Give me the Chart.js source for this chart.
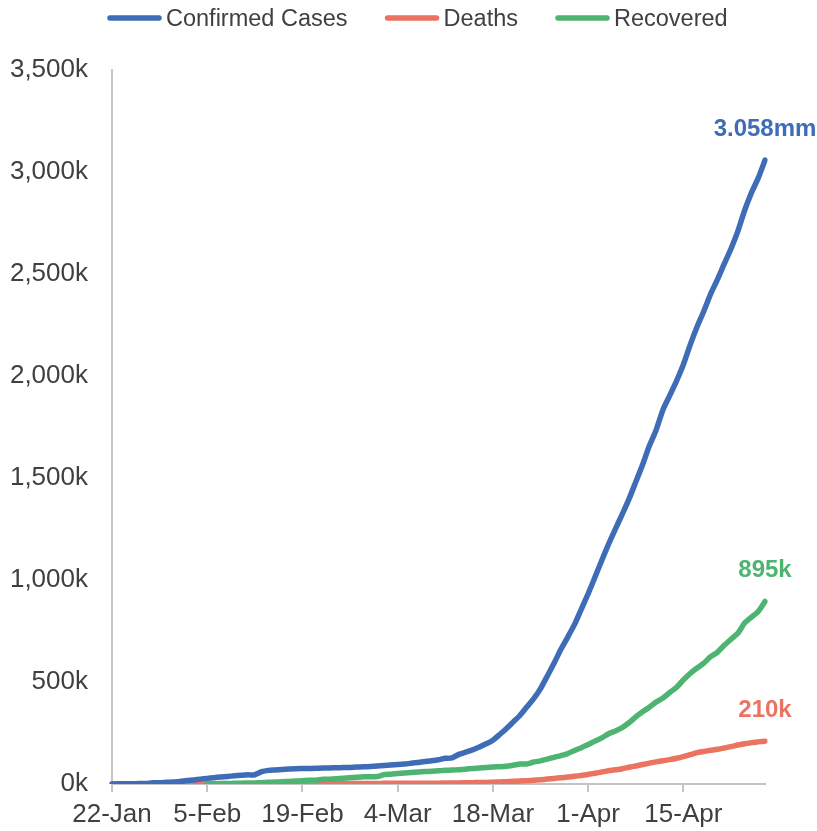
<!DOCTYPE html>
<html>
<head>
<meta charset="utf-8">
<script src="https://cdn.jsdelivr.net/npm/chart.js@4/dist/chart.umd.min.js"></script>
<style>
  html, body { margin: 0; padding: 0; background: #fff; }
  #wrap { width: 817px; height: 831px; }
</style>
</head>
<body>
<div id="wrap"><canvas id="chart"></canvas></div>
<script>
// daily dates, 22-Jan to 27-Apr
const months = ['Jan', 'Feb', 'Mar', 'Apr'];
const dates = [];
for (let d = new Date(2020, 0, 22); d <= new Date(2020, 3, 27); d.setDate(d.getDate() + 1)) {
  dates.push(d.getDate() + '-' + months[d.getMonth()]);
}

const confirmed = [
  555, 654, 941, 1434, 2118, 2927, 5578, 6166, 8234, 9927,
  12038, 16787, 19881, 23892, 27635, 30794, 34391, 37120, 40150, 42762,
  44802, 45221, 60368, 66885, 69030, 71224, 73258, 75136, 75639, 76197,
  76823, 78579, 78965, 79568, 80413, 81395, 82754, 84120, 86011, 88369,
  90306, 92840, 95120, 97886, 101801, 105847, 109821, 113590, 118620, 125875,
  128352, 145205, 156101, 167454, 181574, 197102, 214821, 242570, 272208, 304507,
  336953, 378235, 418045, 467653, 529591, 593291, 660706, 720117, 782365, 857487,
  932605, 1013466, 1095917, 1176060, 1249754, 1321481, 1396476, 1480202, 1565278, 1657526,
  1735650, 1834721, 1904838, 1976191, 2056054, 2152437, 2240190, 2317759, 2401378, 2472259,
  2549123, 2624074, 2708885, 2811193, 2897645, 2969711, 3058000
];

const deaths = [
  17, 18, 26, 42, 56, 82, 131, 133, 171, 213,
  259, 362, 426, 492, 564, 634, 719, 806, 906, 1013,
  1113, 1118, 1371, 1523, 1666, 1770, 1868, 2007, 2122, 2247,
  2251, 2458, 2469, 2629, 2708, 2770, 2814, 2872, 2941, 2996,
  3085, 3160, 3254, 3348, 3460, 3558, 3802, 3988, 4262, 4615,
  4720, 5404, 5819, 6440, 7126, 7905, 8733, 9867, 11299, 12973,
  14623, 16497, 18615, 21181, 23970, 27198, 30652, 33925, 37582, 42107,
  46809, 52983, 58787, 64606, 69374, 74565, 81865, 88338, 95455, 102525,
  108502, 114090, 119481, 125983, 134176, 143800, 153822, 159509, 165043, 169986,
  176583, 183066, 190858, 197159, 202846, 206544, 210000
];

// recovered series only starts on 5-Feb
const recovered = [
  null, null, null, null, null, null, null, null, null, null,
  null, null, null, null, 1124, 1487, 2011, 2616, 3244, 3946,
  4683, 5150, 6295, 8058, 9395, 10865, 12583, 14352, 16121, 18177,
  18890, 22886, 23394, 25227, 27905, 30384, 33277, 35500, 36000, 36500,
  46000, 48228, 51170, 53796, 55865, 58358, 60694, 62494, 64404, 67003,
  68324, 70251, 72624, 76034, 78088, 80840, 83312, 84975, 87420, 91692,
  97899, 98351, 107890, 113604, 122150, 130915, 139415, 149082, 164566, 178034,
  193177, 210263, 225796, 246152, 259695, 276515, 300054, 328661, 353975, 376096,
  402110, 421722, 448655, 474261, 510219, 541814, 568343, 592319, 623903, 645738,
  679819, 709694, 738486, 789014, 817969, 845887, 895000
];

const seriesNames = ['Confirmed Cases', 'Deaths', 'Recovered'];
const seriesColors = ['#3F6CB6', '#EA7362', '#4DB471'];
const endLabels = ['3.058mm', '210k', '895k'];

const FONT = "'Liberation Sans', Arial, sans-serif";
const AXIS_GREY = '#C4C4C4';

// legend across the top, line markers
const topLegend = {
  id: 'topLegend',
  afterDraw(chart) {
    const ctx = chart.ctx;
    ctx.save();
    ctx.font = '23.5px ' + FONT;
    ctx.textBaseline = 'middle';
    ctx.textAlign = 'left';
    let x = 107;
    const y = 18;
    seriesNames.forEach((name, i) => {
      ctx.strokeStyle = seriesColors[i];
      ctx.lineWidth = 5.5;
      ctx.lineCap = 'round';
      ctx.beginPath();
      ctx.moveTo(x + 3, y);
      ctx.lineTo(x + 52, y);
      ctx.stroke();
      ctx.fillStyle = '#404040';
      ctx.fillText(name, x + 59, y + 2);
      x += 59 + ctx.measureText(name).width + 37;
    });
    ctx.restore();
  }
};

// value label above the last point of each line
const lastValue = {
  id: 'lastValue',
  afterDatasetsDraw(chart) {
    const ctx = chart.ctx;
    ctx.save();
    ctx.font = 'bold 24px ' + FONT;
    ctx.textAlign = 'center';
    ctx.textBaseline = 'middle';
    chart.data.datasets.forEach((ds, i) => {
      const pts = chart.getDatasetMeta(i).data;
      const p = pts[pts.length - 1];
      ctx.fillStyle = ds.borderColor;
      ctx.fillText(endLabels[i], p.x, p.y - 31);
    });
    ctx.restore();
  }
};

new Chart(document.getElementById('chart'), {
  type: 'line',
  data: {
    labels: dates,
    datasets: [
      { label: seriesNames[0], data: confirmed, borderColor: seriesColors[0], order: 0 },
      { label: seriesNames[1], data: deaths, borderColor: seriesColors[1], order: 2 },
      { label: seriesNames[2], data: recovered, borderColor: seriesColors[2], order: 1 }
    ]
  },
  options: {
    responsive: true,
    maintainAspectRatio: false,
    animation: false,
    layout: { padding: { top: 70, right: 52, bottom: 1, left: 0 } },
    elements: {
      line: { borderWidth: 5.5, tension: 0.2, borderCapStyle: 'round', borderJoinStyle: 'round', fill: false },
      point: { radius: 0 }
    },
    plugins: {
      legend: { display: false },
      tooltip: { enabled: false }
    },
    scales: {
      x: {
        afterBuildTicks(scale) {
          scale.ticks = scale.ticks.filter((t, i) => i % 14 === 0);
        },
        afterFit(scale) { scale.height = 46; },
        grid: { drawOnChartArea: false, drawTicks: true, tickLength: 8, color: AXIS_GREY, lineWidth: 2 },
        border: { color: AXIS_GREY, width: 2 },
        ticks: {
          autoSkip: false,
          maxRotation: 0,
          padding: 7,
          color: '#404040',
          font: { family: FONT, size: 26 }
        }
      },
      y: {
        min: 0,
        max: 3500000,
        afterFit(scale) { scale.width = 112; },
        grid: { display: false, drawTicks: false },
        border: { display: true, color: AXIS_GREY, width: 2 },
        ticks: {
          stepSize: 500000,
          padding: 24,
          color: '#404040',
          font: { family: FONT, size: 26 },
          callback: v => (v / 1000).toLocaleString('en-US') + 'k'
        }
      }
    }
  },
  plugins: [topLegend, lastValue]
});
</script>
</body>
</html>
